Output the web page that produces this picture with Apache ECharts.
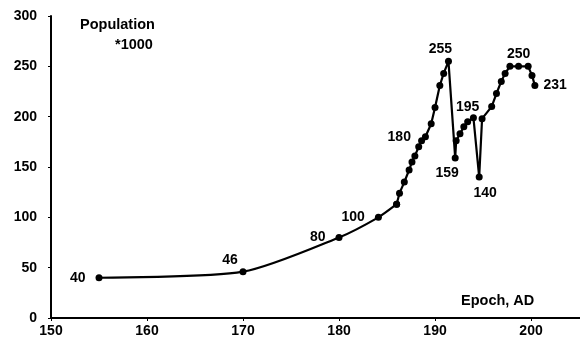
<!DOCTYPE html>
<html lang="en">
<head>
    <meta charset="UTF-8">
    <title>Population</title>
    <script src="https://cdn.jsdelivr.net/npm/echarts@6.0.0/dist/echarts.min.js"></script>
    <style>
        html, body { margin: 0; padding: 0; background: #fff; }
        #grafica { width: 580px; height: 349px; }
    </style>
</head>
<body>
    <div id="grafica"></div>
    <script>
        // datos
        const epochs = [155, 170, 180, 184.1, 186.0, 186.3, 186.8, 187.3, 187.6, 187.9, 188.3, 188.6, 189.0, 189.6,
            190.0, 190.5, 190.9, 191.4, 192.1, 192.2, 192.6, 193.0, 193.4, 194.0, 194.6, 194.9,
            195.9, 196.4, 196.9, 197.3, 197.8, 198.7, 199.7, 200.1, 200.4];
        const population = [40, 46, 80, 100, 113, 124, 135, 147, 155, 161, 170, 176, 180, 193,
            209, 231, 243, 255, 159, 176, 183, 190, 195, 199, 140, 198,
            210, 223, 235, 243, 250, 250, 250, 241, 231];
        const yTicks = [0, 50, 100, 150, 200, 250, 300];
        const xTicks = [150, 160, 170, 180, 190, 200];

        const fuente = { fontFamily: 'Liberation Sans', fontWeight: 'bold', fontSize: 14, color: '#000' };

        // etiquetas de valores (indice -> posicion)
        const etiquetas = {
            0: { position: 'left', distance: 10 },
            1: { position: 'top', distance: 1, offset: [-13, 0] },
            2: { position: 'left', distance: 10 },
            3: { position: 'left', distance: 10 },
            12: { position: 'left', distance: 11 },
            17: { position: 'top', distance: 2, offset: [-8, 0] },
            18: { position: 'bottom', distance: 5, offset: [-8, 0] },
            22: { position: 'top', distance: 4 },
            24: { position: 'bottom', distance: 6, offset: [6, 0] },
            31: { position: 'top', distance: 2 },
            34: { position: 'right', distance: 5 }
        };

        const datos = epochs.map((x, i) => {
            let d = { value: [x, population[i]] };
            if (etiquetas[i]) {
                d.label = Object.assign({ show: true, formatter: '{@[1]}' }, fuente, etiquetas[i]);
            }
            return d;
        });

        // tramo suave (hasta 186) y tramo recto (desde 186)
        const corte = 4;

        let myChart = echarts.init(document.getElementById('grafica'));

        let option = {
            backgroundColor: '#fff',
            animation: false,
            grid: { left: 51, right: 0, top: 16, bottom: 31 },
            xAxis: {
                type: 'value',
                min: 150,
                max: 205.1,
                interval: 10,
                splitLine: { show: false },
                axisLine: { lineStyle: { color: '#000', width: 2 } },
                axisTick: { length: 3, customValues: xTicks, lineStyle: { color: '#000' } },
                axisLabel: Object.assign({ margin: 6, customValues: xTicks }, fuente)
            },
            yAxis: {
                type: 'value',
                min: 0,
                max: 300,
                interval: 50,
                splitLine: { show: false },
                axisLine: { show: true, lineStyle: { color: '#000', width: 2 } },
                axisTick: { show: true, length: 3, customValues: yTicks, lineStyle: { color: '#000' } },
                axisLabel: Object.assign({ margin: 14, customValues: yTicks }, fuente)
            },
            graphic: [
                { type: 'text', left: 80, top: 17, style: { text: 'Population', fill: '#000', font: 'bold 14.5px "Liberation Sans"' } },
                { type: 'text', left: 115, top: 37, style: { text: '*1000', fill: '#000', font: 'bold 14.5px "Liberation Sans"' } },
                { type: 'text', left: 461, top: 293, style: { text: 'Epoch, AD', fill: '#000', font: 'bold 14.5px "Liberation Sans"' } }
            ],
            series: [
                {
                    type: 'line',
                    data: datos.slice(0, corte + 1),
                    smooth: 0.25,
                    symbol: 'circle',
                    symbolSize: 7,
                    lineStyle: { color: '#000', width: 2.2 },
                    itemStyle: { color: '#000' }
                },
                {
                    type: 'line',
                    data: datos.slice(corte),
                    symbol: 'circle',
                    symbolSize: 7,
                    lineStyle: { color: '#000', width: 2.2 },
                    itemStyle: { color: '#000' }
                }
            ]
        };

        myChart.setOption(option);
    </script>
</body>
</html>
